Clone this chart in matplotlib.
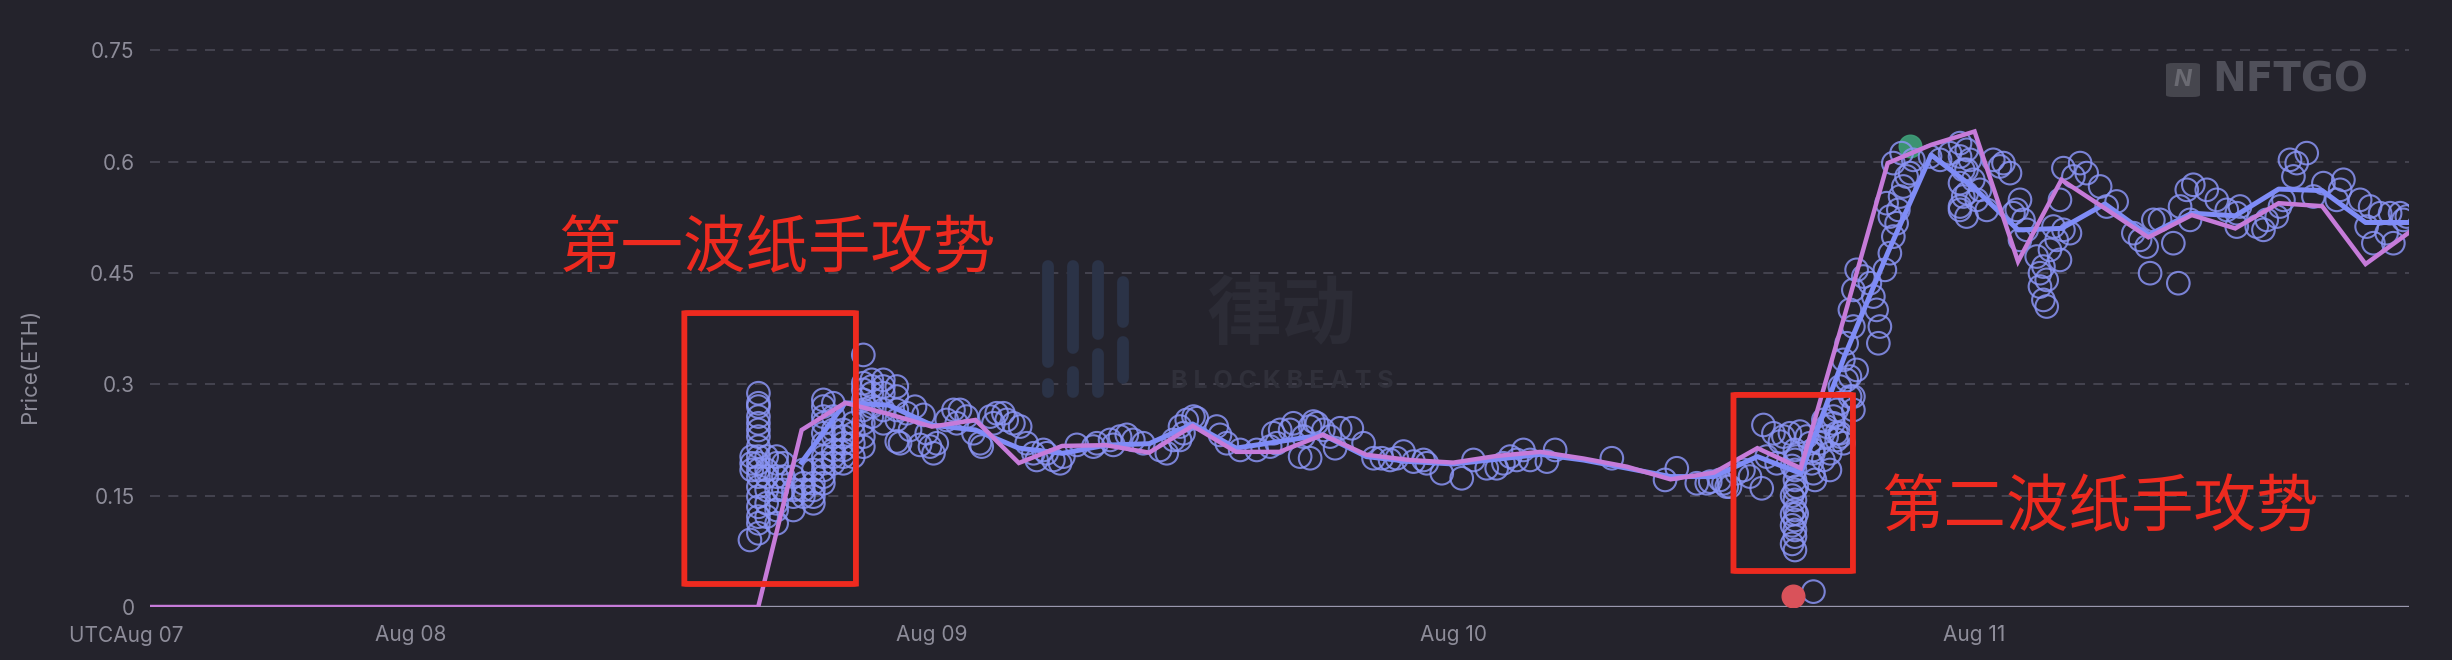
import numpy as np
import matplotlib
matplotlib.use("Agg")
import matplotlib.pyplot as plt
from matplotlib.patches import FancyBboxPatch
from matplotlib.lines import Line2D

plt.rcParams['font.family'] = ['Inter', 'DejaVu Sans']

# hours counted from Aug 07 00:00 UTC
line_hours = list(range(12, 117, 2))
# purple line (2h samples)
purple_vals = [0] * 15 + [
    0.2385, 0.275, 0.26, 0.243, 0.252, 0.194, 0.217, 0.218, 0.208, 0.244,
    0.209, 0.209, 0.232, 0.205, 0.198, 0.1945, 0.2035, 0.209, 0.200, 0.189,
    0.172, 0.181, 0.214, 0.187, 0.391, 0.598, 0.6226, 0.6406, 0.4654, 0.5755,
    0.537, 0.498, 0.528, 0.510, 0.544, 0.540, 0.462, 0.5045]
# blue line starts at 42h
blue_hours = list(range(42, 117, 2))
blue_vals = [
    0.195, 0.275, 0.272, 0.245, 0.2385, 0.214, 0.207, 0.218, 0.220, 0.2466,
    0.214, 0.223, 0.232, 0.2026, 0.196, 0.1927, 0.199, 0.2057, 0.198, 0.187,
    0.1757, 0.1757, 0.2026, 0.18, 0.337, 0.477, 0.609, 0.564, 0.508, 0.510,
    0.543, 0.501, 0.5305, 0.527, 0.563, 0.561, 0.518, 0.518]

# sales, grouped as (hour, [prices at that hour])
wave1_sales = [
    (39.62, [0.0903]),
    (39.7, [0.2026, 0.1936, 0.1846]),
    (40.01, [0.288, 0.2745, 0.270, 0.2565, 0.2475, 0.2385, 0.2295, 0.216, 0.2026,
             0.1936, 0.1846, 0.1756, 0.162, 0.1487, 0.135, 0.1217, 0.1128, 0.0993]),
    (40.39, [0.2026, 0.1846, 0.1756, 0.1577, 0.1397, 0.1217]),
    (40.85, [0.2026, 0.1936, 0.1756, 0.1577, 0.1397, 0.1307, 0.1128]),
    (41.16, [0.1936, 0.1756, 0.1577]),
    (41.62, [0.1756, 0.1577, 0.1487, 0.1307]),
    (42.08, [0.1846, 0.1667, 0.1577, 0.1487]),
    (42.54, [0.1846, 0.1667, 0.1577, 0.1487, 0.1397]),
    (43.0, [0.279, 0.270, 0.2565, 0.2475, 0.234, 0.2205, 0.2026, 0.1936, 0.1846, 0.1756, 0.1667]),
    (43.46, [0.2745, 0.2565, 0.2385, 0.2295, 0.2116, 0.2026, 0.1936]),
    (43.92, [0.2385, 0.2295, 0.2205, 0.2116, 0.2026, 0.1936]),
    (44.38, [0.2475, 0.234, 0.2205, 0.2026]),
    (44.84, [0.3396, 0.3015, 0.2925, 0.279, 0.2655, 0.2475, 0.2295, 0.216]),
    (45.23, [0.306, 0.297, 0.288, 0.270, 0.2565]),
    (45.76, [0.306, 0.297, 0.288, 0.2655, 0.2475]),
    (46.38, [0.297, 0.2835, 0.2655, 0.252, 0.223]),
]
mid_sales = [
    (46.53, [0.2206]), (46.84, [0.261]), (46.99, [0.2386]), (47.22, [0.2698]),
    (47.45, [0.2184]), (47.61, [0.2588]), (47.76, [0.2341]), (47.91, [0.2161]),
    (48.07, [0.2071]), (48.22, [0.2206]), (48.68, [0.252]), (48.99, [0.2655]),
    (49.14, [0.2475]), (49.29, [0.2655]), (49.6, [0.2565]), (49.91, [0.2341]),
    (50.21, [0.2206]), (50.29, [0.2161]), (50.68, [0.2565]), (50.83, [0.2475]),
    (50.98, [0.261]), (51.29, [0.261]), (51.44, [0.252]), (51.75, [0.2475]),
    (52.06, [0.2431]), (52.36, [0.2206]), (52.67, [0.2071]), (52.82, [0.1981]),
    (53.13, [0.2116]), (53.28, [0.2071]), (53.59, [0.1981]), (53.9, [0.1936]),
    (54.05, [0.2026]), (54.67, [0.2184]), (55.43, [0.2161]), (55.59, [0.2206]),
    (56.2, [0.2251]), (56.35, [0.2184]), (56.66, [0.2296]), (56.97, [0.2319]),
    (57.27, [0.2251]), (57.73, [0.2206]), (58.5, [0.2116]), (58.81, [0.2071]),
    (59.12, [0.2251]), (59.42, [0.2431, 0.2251]), (59.58, [0.2341]), (59.73, [0.252]),
    (60.04, [0.2565]), (60.19, [0.2543]), (61.11, [0.2431]), (61.26, [0.2319]),
    (61.57, [0.2206]), (62.19, [0.2116]), (62.95, [0.2116]), (63.57, [0.2161]),
    (63.72, [0.2341]), (63.87, [0.2206]), (64.03, [0.2386]), (64.49, [0.2386]),
    (64.64, [0.2475]), (64.95, [0.2026]), (65.1, [0.2296]), (65.41, [0.2431, 0.2004]),
    (65.56, [0.2498]), (65.72, [0.2475]), (66.02, [0.2386]), (66.33, [0.2296]),
    (66.56, [0.2139]), (66.79, [0.2408]), (67.33, [0.2408]), (67.87, [0.2206]),
    (68.33, [0.2004]), (68.71, [0.2004]), (69.09, [0.1981]), (69.4, [0.2004]),
    (69.71, [0.2094]), (70.17, [0.1959]), (70.63, [0.1981]), (70.78, [0.1936]),
    (71.47, [0.1802]), (72.39, [0.1734]), (72.93, [0.1981]), (73.54, [0.1869]),
    (74.0, [0.1869]), (74.31, [0.1936]), (74.62, [0.2026]), (74.92, [0.1981]),
    (75.23, [0.2116]), (75.54, [0.1981]), (76.31, [0.1959]), (76.69, [0.2116]),
    (79.3, [0.2004]), (81.75, [0.1712]), (82.29, [0.1869]), (83.21, [0.1667]),
    (83.83, [0.1689]), (84.44, [0.1667]), (84.59, [0.1622]), (85.05, [0.1802]),
]
wave2_sales = [
    (83.67, [0.1667]), (84.28, [0.1712]), (84.74, [0.1622]), (85.36, [0.1846]),
    (85.66, [0.1757]), (86.2, [0.1599]), (86.28, [0.2452]), (86.43, [0.2026]),
    (86.74, [0.2340]), (86.89, [0.1936]), (87.04, [0.2228]), (87.2, [0.2296]),
    (87.5, [0.2340]),
    (87.6, [0.19, 0.15, 0.125, 0.11, 0.085]),
    (87.73, [0.2116, 0.1981, 0.1846, 0.1712, 0.1577, 0.1442, 0.1307, 0.1172, 0.1038, 0.0948, 0.0768]),
    (87.81, [0.2026, 0.1622, 0.1257]),
    (87.96, [0.2363]), (88.27, [0.2296]), (88.42, [0.2206]), (88.5, [0.1936]),
    (88.58, [0.2071, 0.1802, 0.2116, 0.0207]), (88.65, [0.1712]),
    (88.88, [0.2206]), (89.04, [0.2520, 0.1981]), (89.19, [0.2296, 0.2430]),
    (89.34, [0.1846]), (89.35, [0.2071]), (89.5, [0.2475, 0.2565]),
    (89.65, [0.2655, 0.2251, 0.2341]), (89.8, [0.2745, 0.2969]),
    (89.81, [0.2296, 0.2340]), (89.96, [0.2206, 0.3329]), (90.11, [0.3059, 0.3553]),
    (90.26, [0.4003, 0.3104]), (90.27, [0.2835]), (90.42, [0.2655, 0.4272, 0.3778, 0.2835]),
    (90.57, [0.3194, 0.4542]), (90.88, [0.4452]), (91.18, [0.4362]), (91.34, [0.4182]),
    (91.49, [0.4003]), (91.57, [0.3553]), (91.64, [0.3778]), (91.87, [0.4542]),
    (91.95, [0.5440]), (92.1, [0.4766, 0.5260]), (92.26, [0.4990, 0.5980]),
    (92.41, [0.5170]), (92.49, [0.5350]), (92.57, [0.5530]), (92.64, [0.6114]),
    (92.72, [0.5665]), (92.87, [0.5800]), (93.03, [0.5845]), (93.18, [0.6024]),
    (93.95, [0.6069]), (94.41, [0.6024]), (94.87, [0.6114]),
]
late_sales = [
    (95.33, [0.6069, 0.5710, 0.5350, 0.6249, 0.5395]), (95.48, [0.5530, 0.5890]),
    (95.63, [0.5890, 0.5260]), (95.64, [0.6159, 0.5575]), (95.79, [0.6024]),
    (95.94, [0.5755]), (96.1, [0.5485]), (96.25, [0.5620]), (96.56, [0.5350]),
    (96.86, [0.6024]), (97.17, [0.5935]), (97.33, [0.5980]), (97.63, [0.5845]),
    (97.79, [0.5305]), (97.94, [0.5350]), (98.09, [0.5485, 0.4946]), (98.25, [0.5215]),
    (98.4, [0.5081]), (98.86, [0.4721]), (99.01, [0.4317, 0.4497]), (99.17, [0.4586, 0.4137]),
    (99.32, [0.4407, 0.4048]), (99.47, [0.4811]), (99.63, [0.5125]), (99.78, [0.4946]),
    (99.93, [0.4676, 0.5485]), (100.09, [0.5081, 0.5912]), (100.39, [0.5036]),
    (100.55, [0.5800]), (100.86, [0.5980]), (101.16, [0.5845]), (101.78, [0.5665]),
    (102.08, [0.5395]), (102.54, [0.5463]), (103.31, [0.5036]), (103.62, [0.4946]),
    (103.92, [0.4856]), (104.08, [0.4497]), (104.23, [0.5215]), (104.54, [0.5215]),
    (105.15, [0.4901]), (105.38, [0.4362]), (105.46, [0.5395]), (105.77, [0.5620]),
    (105.92, [0.5215]), (106.07, [0.5688]), (106.69, [0.5620]), (107.15, [0.5485]),
    (107.61, [0.5350]), (108.07, [0.5305, 0.5125]), (108.22, [0.5395]), (108.99, [0.5125]),
    (109.3, [0.5081]), (109.45, [0.5215]), (109.91, [0.5260]), (110.06, [0.5395]),
    (110.22, [0.5485]), (110.52, [0.6024]), (110.68, [0.5800]), (110.83, [0.5980]),
    (111.29, [0.6114]), (111.6, [0.5530]), (112.06, [0.5710]), (112.67, [0.5485]),
    (112.83, [0.5620]), (112.98, [0.5755]), (113.75, [0.5485]), (114.05, [0.5125]),
    (114.21, [0.5395]), (114.36, [0.4901]), (114.67, [0.5305]), (114.97, [0.5036]),
    (115.13, [0.5305]), (115.28, [0.4901]), (115.59, [0.5305]), (115.74, [0.5215]),
    (115.9, [0.5260]),
]
# highlighted sales (filled dots)
red_sale = (87.66, 0.0148)
green_sale = (93.03, 0.6204)

tick_hours = [24, 48, 72, 96]
tick_labels = ['Aug 08', 'Aug 09', 'Aug 10', 'Aug 11']
y_ticks = [0, 0.15, 0.3, 0.45, 0.6, 0.75]
y_labels = ['0', '0.15', '0.3', '0.45', '0.6', '0.75']

# annotation boxes (hours, price) and captions
boxes = [((36.6, 0.031), (44.5, 0.396)), ((84.9, 0.0485), (90.4, 0.2857))]
captions = [(30.8, 0.4825, '第一波纸手攻势'), (91.7, 0.1334, '第二波纸手攻势')]

bg = '#24232c'
red = '#ee2a1f'


def expand(groups):
    hs, ps = [], []
    for h, vals in groups:
        for p in vals:
            hs.append(h)
            ps.append(p)
    return hs, ps


fig = plt.figure(figsize=(24.52, 6.6), dpi=100, facecolor=bg)
ax = fig.add_axes([150 / 2452, 53 / 660, 2259 / 2452, 579 / 660])
ax.set_facecolor(bg)

# watermarks (drawn on the figure, above the axes background)
for x0, segs in [(1048, [(266, 362), (384, 392)]), (1073, [(266, 348), (372, 392)]),
                 (1098, [(266, 334), (354, 392)]), (1123, [(282, 322), (342, 378)])]:
    for ya, yb in segs:
        fig.add_artist(Line2D([x0 / 2452, x0 / 2452], [1 - ya / 660, 1 - yb / 660],
                              color='#2b3347', lw=8.5, solid_capstyle='round', zorder=1))
fig.text(1282 / 2452, 1 - 316 / 660, '律动', fontsize=54, color='#2c2c36',
         family=['Noto Sans CJK SC'], ha='center', va='center', fontweight='bold', zorder=1)
fig.text(1282 / 2452, 1 - 382 / 660, 'B L O C K B E A T S', fontsize=18, color='#30303a',
         ha='center', va='center', fontweight='bold', zorder=1)
fig.add_artist(FancyBboxPatch((2166 / 2452, 1 - 97 / 660), 34 / 2452, 34 / 660,
                              boxstyle='round,pad=0,rounding_size=0.003',
                              transform=fig.transFigure, fc='#46464e', ec='none', zorder=1))
fig.text(2183 / 2452, 1 - 80 / 660, 'N', fontsize=17, color='#6a6a72', fontweight='bold',
         fontstyle='italic', ha='center', va='center', zorder=2)
fig.text(2212 / 2452, 1 - 80 / 660, 'NFTGO', fontsize=29, color='#50505a',
         fontweight='bold', ha='left', va='center', family=['DejaVu Sans'], zorder=1)

# grid
for y in y_ticks[1:]:
    ax.axhline(y, color='#4a4955', lw=1.2, ls=(0, (6, 5)), zorder=0)
ax.axhline(0, color='#9a98ae', lw=2.4, zorder=1)

# scatter
all_h, all_p = [], []
for grp in [wave1_sales, mid_sales, wave2_sales, late_sales]:
    hs, ps = expand(grp)
    all_h += hs
    all_p += ps
ax.scatter(all_h, all_p, s=265, facecolors='none', edgecolors='#8a94f4',
           linewidths=1.5, alpha=0.85, zorder=2)
ax.scatter([red_sale[0]], [red_sale[1]], s=265, color='#d9525a', zorder=3)
ax.scatter([green_sale[0]], [green_sale[1]], s=265, color='#3fa07a', alpha=0.9, zorder=1.9)

# lines
ax.plot(line_hours, purple_vals, color='#c67bd9', lw=3.2, zorder=4, solid_joinstyle='miter')
ax.plot(blue_hours, blue_vals, color='#7f8cf7', lw=3.6, zorder=3.5)

# annotation boxes and captions
for (x0, y0), (x1, y1) in boxes:
    ax.add_patch(FancyBboxPatch((x0, y0), x1 - x0, y1 - y0,
                                boxstyle='round,pad=0,rounding_size=0.25',
                                mutation_aspect=0.0012,
                                fc='none', ec=red, lw=4.2, zorder=5))
for x, y, s in captions:
    ax.text(x, y, s, fontsize=45, color=red, family=['Noto Sans CJK SC'],
            ha='left', va='center', zorder=6)

ax.set_xlim(12, 116)
ax.set_ylim(0, 0.78)
ax.set_xticks(tick_hours)
ax.set_xticklabels(tick_labels)
ax.set_yticks(y_ticks)
ax.set_yticklabels(y_labels)
ax.tick_params(axis='both', length=0, colors='#8d8c99', labelsize=15)
ax.tick_params(axis='x', pad=13)
ax.tick_params(axis='y', pad=11)
for sp in ax.spines.values():
    sp.set_visible(False)
ax.annotate('UTCAug 07', xy=(12, 0), xycoords=('data', 'axes fraction'),
            xytext=(-17, -21), textcoords='offset points', ha='center', va='center',
            fontsize=15, color='#8d8c99')
fig.text(30 / 2452, 1 - 366 / 660, 'Price(ETH)', rotation=90, fontsize=16,
         color='#8d8c99', ha='center', va='center')

fig.savefig('out.png', dpi=100, facecolor=bg)
